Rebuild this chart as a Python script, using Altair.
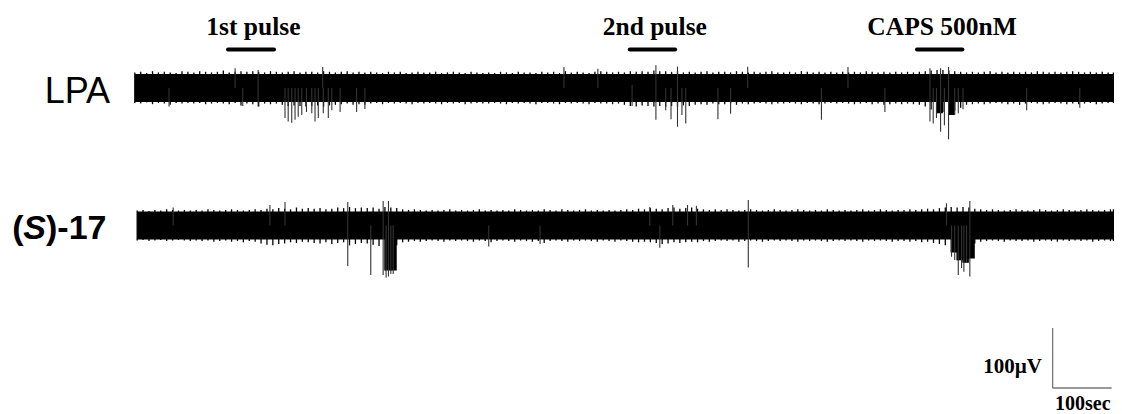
import altair as alt
import pandas as pd

# ---------------- data ----------------
STEP = 10  # seconds per envelope sample
trace_names = ["LPA", "(S)-17"]
trace_start = [3, 7]
trace_end = 1662

# envelope of the noise band (µV, relative to trace baseline), one value per 10 s
lpa_hi = [26,27,25,28,26,27,26,25,28,27, 26,28,27,26,27,29,26,27,28,27,
          28,27,26,28,27,26,27,28,26,27, 27,26,28,27,26,27,28,26,27,26,
          27,26,25,27,26,27,25,26,27,26, 26,27,25,26,27,26,25,27,26,25,
          26,25,27,26,25,27,26,26,25,27, 26,27,25,28,26,27,26,25,27,28,
          27,26,27,26,28,27,28,27,29,28, 28,27,28,26,27,26,27,28,26,27,
          27,26,28,27,26,27,26,27,28,26, 26,27,26,28,27,26,27,26,27,26,
          27,26,27,26,28,27,26,27,26,27, 26,27,26,27,28,29,30,30,29,28,
          27,26,27,26,27,28,26,27,26,27, 26,27,26,28,27,26,27,26,27,28,
          27,26,27,26,27,26]
lpa_lo = [-25,-26,-24,-27,-25,-26,-28,-25,-26,-25, -26,-25,-27,-26,-25,-26,-27,-25,-29,-26,
          -27,-31,-26,-27,-26,-28,-30,-29,-30,-31, -30,-29,-31,-29,-28,-27,-26,-28,-27,-28,
          -26,-25,-27,-25,-26,-25,-26,-27,-25,-26, -25,-26,-27,-25,-26,-25,-27,-26,-25,-26,
          -26,-25,-26,-27,-25,-26,-25,-26,-27,-25, -25,-26,-27,-25,-26,-25,-26,-27,-25,-26,
          -26,-27,-26,-28,-30,-31,-29,-30,-31,-30, -31,-30,-32,-29,-30,-28,-27,-28,-26,-27,
          -27,-26,-28,-26,-27,-26,-25,-26,-27,-26, -26,-25,-26,-27,-25,-26,-27,-26,-25,-26,
          -25,-26,-27,-26,-25,-27,-26,-28,-27,-26, -27,-26,-27,-28,-31,-36,-42,-40,-45,-38,
          -33,-28,-27,-26,-27,-26,-25,-26,-27,-26, -28,-26,-25,-26,-27,-26,-25,-26,-27,-26,
          -27,-26,-25,-27,-26,-25]
s17_hi = [25,26,24,26,25,27,26,25,26,25, 26,25,27,26,25,26,27,26,25,26,
          27,26,28,27,29,28,27,30,28,29, 28,29,27,28,30,29,31,29,30,29,
          30,28,31,30,29,27,26,27,26,25, 26,25,26,27,25,26,25,26,27,25,
          26,25,26,25,27,26,25,26,25,27, 26,25,27,26,25,26,27,25,26,25,
          26,25,26,27,26,28,27,29,28,27, 29,30,28,29,30,28,27,26,27,26,
          27,26,25,26,27,26,25,26,27,26, 25,26,27,26,25,26,25,27,26,25,
          26,25,26,27,25,26,27,26,25,26, 26,27,26,27,28,27,29,30,31,30,
          31,30,28,27,26,27,26,25,26,27, 26,25,26,27,26,25,26,27,26,25,
          26,27,26,25,26,27]
s17_lo = [-25,-24,-26,-25,-24,-26,-25,-24,-25,-26, -25,-26,-25,-27,-26,-25,-27,-26,-28,-26,
          -27,-30,-32,-33,-31,-30,-28,-29,-27,-28, -29,-30,-28,-31,-29,-28,-33,-31,-29,-30,
          -32,-34,-75,-75,-33,-28,-27,-26,-27,-26, -25,-26,-27,-25,-26,-25,-26,-27,-25,-26,
          -28,-26,-25,-26,-27,-25,-26,-27,-26,-29, -26,-25,-26,-27,-25,-26,-25,-26,-27,-25,
          -26,-27,-25,-26,-27,-28,-27,-28,-29,-31, -30,-28,-29,-28,-27,-28,-26,-27,-26,-25,
          -26,-25,-27,-26,-25,-26,-27,-26,-25,-26, -25,-26,-27,-25,-26,-25,-26,-27,-26,-25,
          -26,-25,-26,-27,-25,-26,-25,-26,-27,-26, -26,-27,-26,-28,-27,-29,-31,-33,-45,-58,
          -62,-55,-30,-27,-26,-25,-26,-27,-25,-26, -26,-25,-27,-26,-25,-26,-27,-25,-26,-25,
          -26,-25,-27,-26,-25,-26]

# individual spikes: time (s), lowest and highest excursion (µV)
lpa_spike_t  = [61,173,186,212,257.6,263,269,274.6,280,286,294,303,308.5,314,321.5,322.5,331,337,351,379,393,
                730.5,788,846,886.4,903,912,923,930.5,937,991.5,1013,1042,1167,1212,1274.6,
                1351,1356.5,1362,1369,1375.5,1382.5,1393,1399,1407,1515,1605]
lpa_spike_lo = [-31,0,-30,-31,-50,-56,-58,-53,-48,-45,-40,-42,-56,-50,0,-42,-50,-37,-40,-40,-35,
                0,0,-30,-53,-37,-52,-64.5,-45,-59,-52,-43,0,-53,0,-40,
                -56,-59,-50,-73,-62,-85.5,-45,-42,-35.5,-37,-33]
lpa_spike_hi = [0,33,0,30,0,0,0,0,0,0,0,0,0,0,35,0,0,0,0,0,0,
                35,32,5,38,0,0,35.5,0,0,0,0,35.5,0,35,0,
                33,0,0,33,0,35,0,0,0,0,0]
s17_spike_t  = [68,232,257.6,364,403,424,429,433,437,441,603,690,876,893,915,940,955,1043,
                1379,1387.6,1393,1399,1404.6,1408.5,1413,1418.6]
s17_spike_lo = [0,0,0,-67.5,-82.5,-82.5,-87,-85,-81,-81,-35,-31,0,-37,0,0,0,-70,
                0,-52,-57.5,-82.5,-71,-77,-61,-85]
s17_spike_hi = [30,34,39,39,0,41,0,41,0,0,0,0,31,0,34,34,33,42.5,
                37,0,0,0,0,0,0,41]

# stimulation periods (s)
stim_labels = ["1st pulse", "2nd pulse", "CAPS 500nM"]
stim_start = [161, 842, 1329]
stim_end = [239, 919, 1406]

# scale bar
bar_uv = 100
bar_sec = 100

# ---------------- layout constants ----------------
trace_offset = {"LPA": 0, "(S)-17": -229.2}
W, H = 1106, 406
X_DOMAIN = [-212, 1663]
Y_DOMAIN = [133.33 - H / 0.6, 133.33]
BAR_V, TITLE_V = 64.2, 88.3
CORE = 23.5     # solid core half-height (µV)
BURST = 40      # envelope beyond this is drawn as solid burst

xs = alt.Scale(domain=X_DOMAIN, nice=False, zero=False)
ys = alt.Scale(domain=Y_DOMAIN, nice=False, zero=False)
X = lambda f: alt.X(f, type="quantitative", scale=xs, axis=None)
Y = lambda f: alt.Y(f, type="quantitative", scale=ys, axis=None)

# ---------------- build tables ----------------
env_rows = []
for name, t0, hi, lo in [("LPA", trace_start[0], lpa_hi, lpa_lo), ("(S)-17", trace_start[1], s17_hi, s17_lo)]:
    off = trace_offset[name]
    pts = [(t0 + i * STEP, h, l) for i, (h, l) in enumerate(zip(hi, lo))] + [(trace_end, hi[-1], lo[-1])]
    for t, h, l in pts:
        env_rows.append({"trace": name, "t": t, "hi": h + off, "lo": l + off,
                         "chi": (h if h > BURST else CORE) + off,
                         "clo": (l if l < -BURST else -CORE) + off})
env = pd.DataFrame(env_rows)

spk_rows = []
for name, ts, los, his in [("LPA", lpa_spike_t, lpa_spike_lo, lpa_spike_hi),
                           ("(S)-17", s17_spike_t, s17_spike_lo, s17_spike_hi)]:
    off = trace_offset[name]
    for t, l, h in zip(ts, los, his):
        spk_rows.append({"trace": name, "t": t, "lo": l + off, "hi": h + off})
spk = pd.DataFrame(spk_rows)

stim = pd.DataFrame({"label": stim_labels, "t0": stim_start, "t1": stim_end,
                     "tc": [(a + b) / 2 + 4 for a, b in zip(stim_start, stim_end)],
                     "vb": [BAR_V] * 3, "vt": [TITLE_V] * 3})

core = alt.Chart(env).mark_area(color="black", interpolate="step-after", opacity=1).encode(
    x=X("t"), y=Y("chi"), y2="clo", detail="trace:N")
hairs = alt.Chart(env).mark_rule(color="black", strokeWidth=1.3).encode(
    x=X("t"), y=Y("lo"), y2="hi")

spikes = alt.Chart(spk).mark_rule(color="#333333", strokeWidth=1.1).encode(
    x=X("t"), y=Y("lo"), y2="hi")

stim_bars = alt.Chart(stim).mark_rule(color="black", strokeWidth=4, strokeCap="round").encode(
    x=X("t0"), x2="t1", y=Y("vb"))

stim_text = alt.Chart(stim).mark_text(font="Liberation Serif", fontWeight="bold", fontSize=25.5,
                                      baseline="alphabetic", align="center", color="black").encode(
    x=X("tc"), y=Y("vt"), text="label:N")

# trace labels
lpa_label = alt.Chart(pd.DataFrame({"txt": ["LPA"], "t": [-39], "v": [-25.5]})).mark_text(
    font="Liberation Sans", fontSize=36, align="right", baseline="alphabetic", color="black").encode(
    x=X("t"), y=Y("v"), text="txt:N")

s17_parts = pd.DataFrame({"txt": ["(", ")-17"], "t": [-205, -147.5], "v": [-251.7, -251.7]})
s17_label = alt.Chart(s17_parts).mark_text(
    font="Liberation Sans", fontWeight="bold", fontSize=34, align="left", baseline="alphabetic",
    color="black").encode(x=X("t"), y=Y("v"), text="txt:N")
s17_italic = alt.Chart(pd.DataFrame({"txt": ["S"], "t": [-186], "v": [-251.7]})).mark_text(
    font="Liberation Sans", fontWeight="bold", fontStyle="italic", fontSize=34, align="left",
    baseline="alphabetic", color="black").encode(x=X("t"), y=Y("v"), text="txt:N")

# scale bar
sb_t0, sb_v0 = 1559, -500
sb_v = alt.Chart(pd.DataFrame({"t": [sb_t0], "v0": [sb_v0], "v1": [sb_v0 + bar_uv]})).mark_rule(
    color="#777777", strokeWidth=1.3).encode(x=X("t"), y=Y("v0"), y2="v1")
sb_h = alt.Chart(pd.DataFrame({"t0": [sb_t0], "t1": [sb_t0 + bar_sec], "v": [sb_v0]})).mark_rule(
    color="#777777", strokeWidth=1.3).encode(x=X("t0"), x2="t1", y=Y("v"))
sb_uv_text = alt.Chart(pd.DataFrame({"txt": [f"{bar_uv}µV"], "t": [1541], "v": [-475]})).mark_text(
    font="Liberation Serif", fontWeight="bold", fontSize=21, baseline="alphabetic", align="right",
    color="black").encode(x=X("t"), y=Y("v"), text="txt:N")
sb_sec_text = alt.Chart(pd.DataFrame({"txt": [f"{bar_sec}sec"], "t": [1610], "v": [-536]})).mark_text(
    font="Liberation Serif", fontWeight="bold", fontSize=20, baseline="alphabetic", align="center",
    color="black").encode(x=X("t"), y=Y("v"), text="txt:N")

chart = alt.layer(core, hairs, spikes, stim_bars, stim_text, lpa_label, s17_label, s17_italic,
                  sb_v, sb_h, sb_uv_text, sb_sec_text).properties(
    width=W, height=H, padding=0, autosize=alt.AutoSizeParams(type="none"),
).configure_view(stroke=None)

chart.save("out.html", embed_options={"renderer": "svg", "actions": False})
